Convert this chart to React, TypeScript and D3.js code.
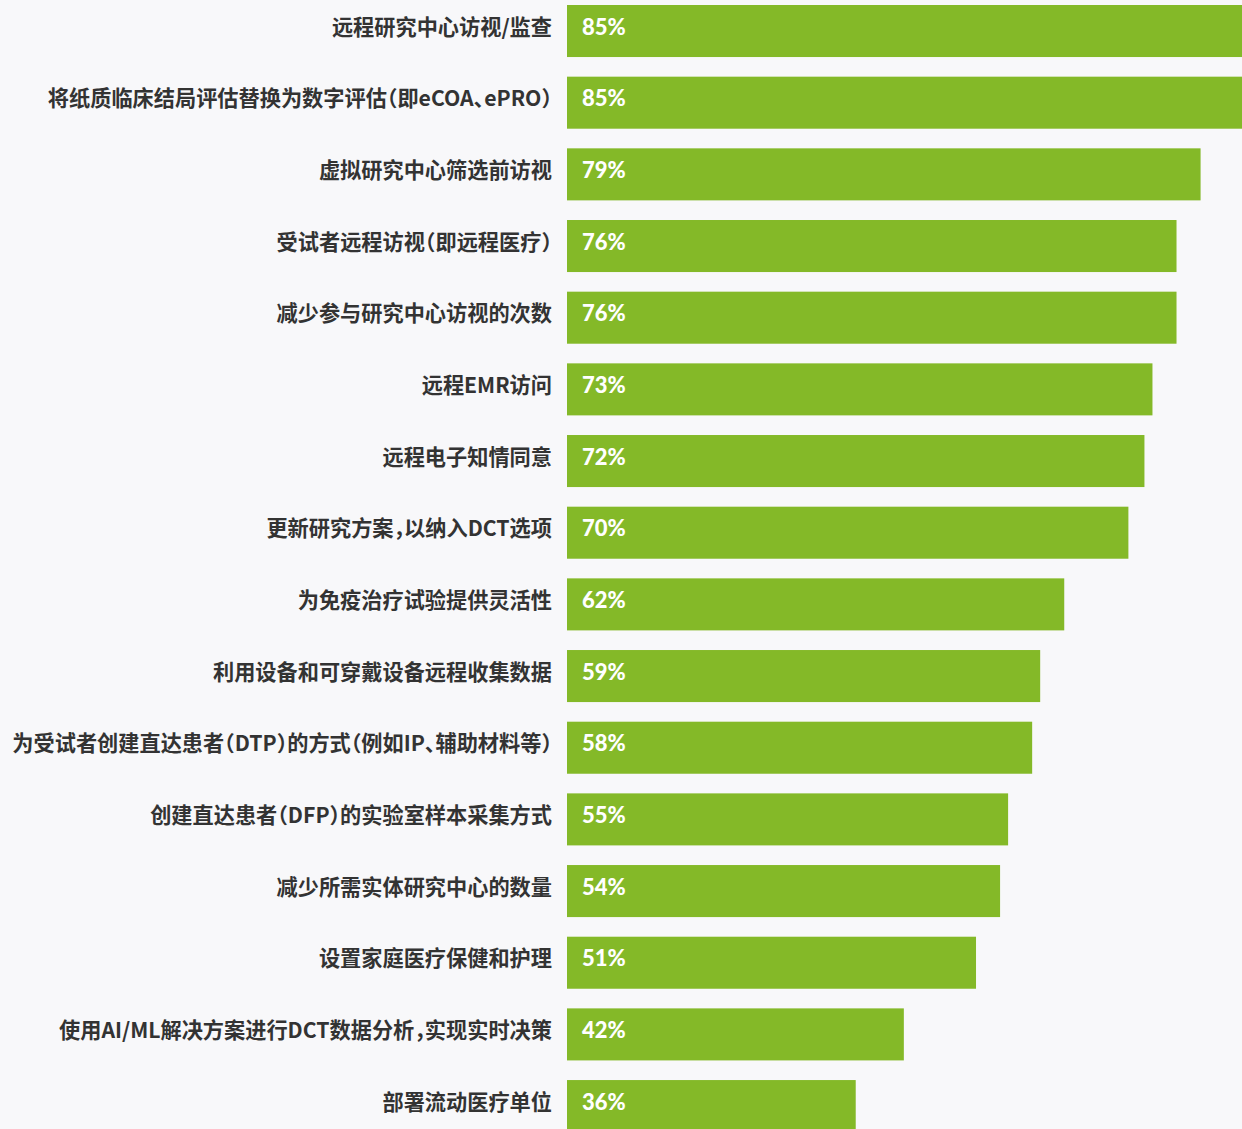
import React from "react";
import * as d3 from "d3";

const categories: string[] = [
  "远程研究中心访视/监查",
  "将纸质临床结局评估替换为数字评估（即eCOA、ePRO）",
  "虚拟研究中心筛选前访视",
  "受试者远程访视（即远程医疗）",
  "减少参与研究中心访视的次数",
  "远程EMR访问",
  "远程电子知情同意",
  "更新研究方案，以纳入DCT选项",
  "为免疫治疗试验提供灵活性",
  "利用设备和可穿戴设备远程收集数据",
  "为受试者创建直达患者（DTP）的方式（例如IP、辅助材料等）",
  "创建直达患者（DFP）的实验室样本采集方式",
  "减少所需实体研究中心的数量",
  "设置家庭医疗保健和护理",
  "使用AI/ML解决方案进行DCT数据分析，实现实时决策",
  "部署流动医疗单位",
];

const values: number[] = [85, 85, 79, 76, 76, 73, 72, 70, 62, 59, 58, 55, 54, 51, 42, 36];

const W = 1242;
const H = 1129;
const FONT = "'Noto Sans CJK SC', 'Noto Sans', sans-serif";

export default function App() {
  const x = d3.scaleLinear().domain([0, 100]).range([567, 1369]);
  const step = 71.67;
  const pad = 0.274;
  const y = d3
    .scaleBand<string>()
    .domain(categories)
    .range([5 - step * pad, 5 - step * pad + step * (categories.length + pad)])
    .padding(pad);

  return (
    <svg
      width={W}
      height={H}
      style={{ position: "absolute", left: 0, top: 0, background: "#f8f8fa" }}
    >
      <rect x={0} y={0} width={W} height={H} fill="#f8f8fa" />
      {categories.map((c, i) => {
        const yy = y(c)!;
        const bw = y.bandwidth();
        const cy = yy + bw / 2 - 5;
        return (
          <g key={c}>
            <rect x={x(0)} y={yy} width={x(values[i]) - x(0)} height={bw} fill="#84b928" />
            <text
              x={552}
              y={cy - 1}
              textAnchor="end"
              dominantBaseline="central"
              fontFamily={FONT}
              fontWeight={700}
              fontSize={21.2}
              fill="#333333"
              style={{ fontFeatureSettings: "'halt'" }}
            >
              {c}
            </text>
            <text
              x={x(0) + 15}
              y={cy}
              dominantBaseline="central"
              fontFamily="Lato, 'Noto Sans', sans-serif"
              fontWeight={900}
              fontSize={22}
              fill="#ffffff"
            >
              {values[i] + "%"}
            </text>
          </g>
        );
      })}
    </svg>
  );
}
